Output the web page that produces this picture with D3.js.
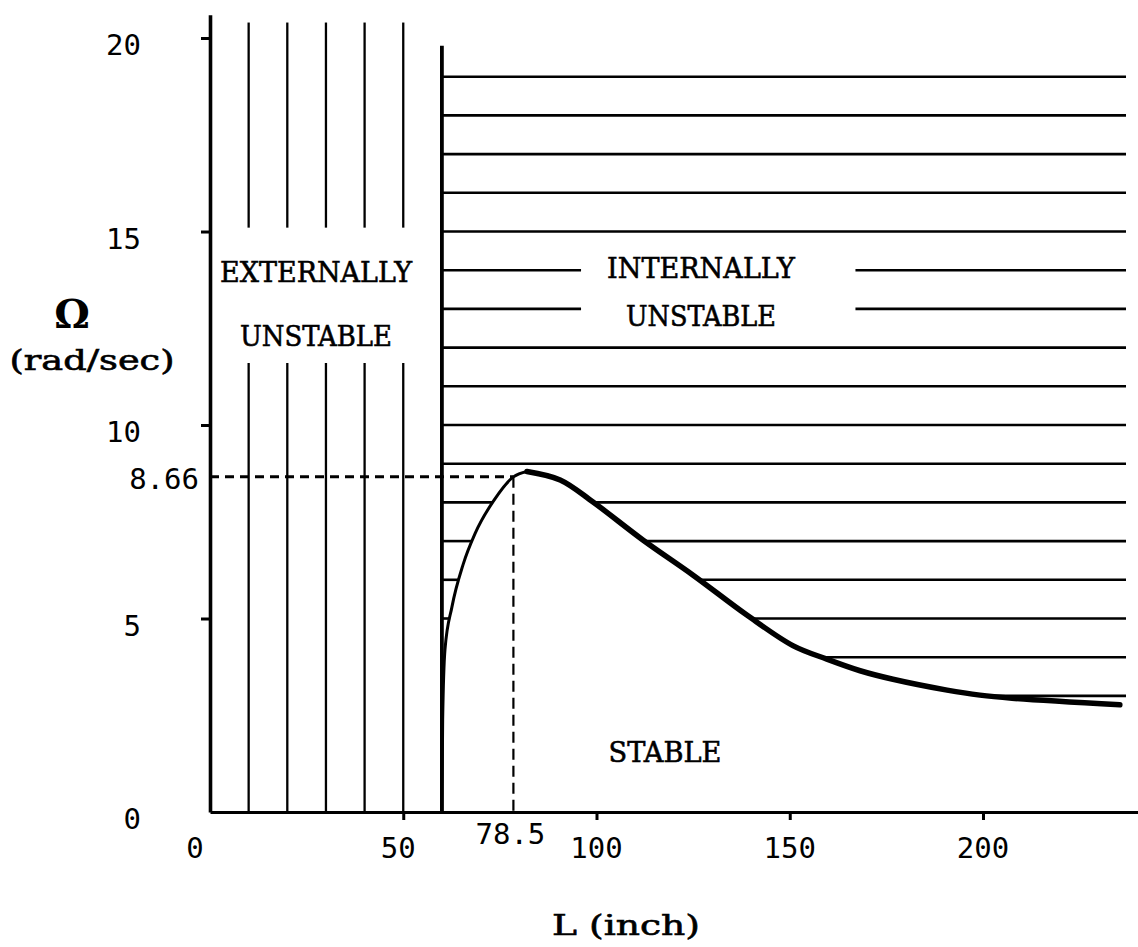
<!DOCTYPE html>
<html><head><meta charset="utf-8">
<script src="https://cdn.jsdelivr.net/npm/d3@7"></script>
<style>body{margin:0;background:#fff}</style>
</head><body><svg id="c" width="1138" height="947"></svg>
<script>
// ---- data ----
const xTicks = [0, 50, 100, 150, 200];
const yTicks = [0, 5, 10, 15, 20];
const curveL     = [60, 60.2, 60.8, 62.6, 65.5, 68.6, 73.5, 78.5, 82, 90.6, 99.1, 112.0, 125.0, 138.9, 150.8, 159.6, 168.2, 176.7, 190.7, 199.2, 207.5, 235.4];
const curveOmega = [0,  2.4,  4.2,  5.3,  6.4,  7.2,  8.06, 8.66, 8.8, 8.58, 8.01, 7.03, 6.12, 5.09, 4.3, 3.95, 3.65, 3.43, 3.15, 3.02, 2.94, 2.77];
const hatchOmega = [3, 4, 5, 6, 7, 8, 9, 10, 11, 12, 13, 14, 15, 16, 17, 18, 19];
const stripeL = [10, 20, 30, 40, 50];
const boundaryL = 60;
const peakL = 78.5, peakOmega = 8.66;
const hatchEndL = 237;
const stripeTopOmega = 20.4;
const stripeGapOmega = [11.6, 15.1];
const textGapRows = [13, 14];
const textGapL = [96, 167];
const axisTopOmega = 20.6, boundaryTopOmega = 19.8;
const xMax = 240;

const svg = d3.select("#c");
svg.append("rect").attr("width", 1138).attr("height", 947).attr("fill", "#fff");

const x = d3.scaleLinear().domain([0, xMax]).range([210, 1137.6]);
const y = d3.scaleLinear().domain([0, axisTopOmega]).range([812, 14.8]);

const mono = "'DejaVu Sans Mono', monospace";
const type = "'DejaVu Serif', serif";

function crossings(level) {
  const res = [];
  for (let i = 0; i < curveL.length - 1; i++) {
    const a = curveOmega[i], b = curveOmega[i + 1];
    if ((a - level) * (b - level) < 0 || a === level) {
      const t = (level - a) / (b - a);
      res.push(curveL[i] + t * (curveL[i + 1] - curveL[i]));
    }
  }
  return res;
}

// horizontal hatching (internally unstable)
const hatchSegs = [];
hatchOmega.forEach(w => {
  let segs = [[boundaryL, hatchEndL]];
  const c = crossings(w);
  if (c.length >= 2) segs = [[boundaryL, c[0]], [c[1], hatchEndL]];
  else if (c.length === 1) segs = [[c[0], hatchEndL]];
  if (textGapRows.includes(w)) {
    const out = [];
    segs.forEach(([a, b]) => {
      if (b <= textGapL[0] || a >= textGapL[1]) out.push([a, b]);
      else {
        if (a < textGapL[0]) out.push([a, textGapL[0]]);
        if (b > textGapL[1]) out.push([textGapL[1], b]);
      }
    });
    segs = out;
  }
  segs.forEach(s => hatchSegs.push({w, a: s[0], b: s[1]}));
});
svg.append("g").selectAll("line").data(hatchSegs).join("line")
  .attr("x1", d => x(d.a)).attr("x2", d => x(d.b))
  .attr("y1", d => y(d.w)).attr("y2", d => y(d.w))
  .attr("stroke", "#000").attr("stroke-width", 2.6);

// vertical stripes (externally unstable)
const stripeSegs = [];
stripeL.forEach(l => {
  stripeSegs.push({l, a: stripeGapOmega[1], b: stripeTopOmega});
  stripeSegs.push({l, a: 0, b: stripeGapOmega[0]});
});
svg.append("g").selectAll("line").data(stripeSegs).join("line")
  .attr("x1", d => x(d.l)).attr("x2", d => x(d.l))
  .attr("y1", d => y(d.a)).attr("y2", d => y(d.b))
  .attr("stroke", "#000").attr("stroke-width", 2.3);

// axes
const xAxis = d3.axisBottom(x).tickValues(xTicks.filter(v => v > 0)).tickSize(8).tickSizeOuter(0).tickFormat("");
const gx = svg.append("g").attr("transform", `translate(0,${y(0)})`).call(xAxis);
gx.select(".domain").attr("stroke-width", 3.2);
gx.selectAll(".tick line").attr("stroke-width", 3);

const yAxis = d3.axisLeft(y).tickValues(yTicks.filter(v => v > 0)).tickSize(9).tickSizeOuter(0).tickFormat("");
const gy = svg.append("g").attr("transform", `translate(${x(0)},0)`).call(yAxis);
gy.select(".domain").attr("stroke-width", 3.6);
gy.selectAll(".tick line").attr("stroke-width", 3);

// boundary line
svg.append("line")
  .attr("x1", x(boundaryL)).attr("x2", x(boundaryL))
  .attr("y1", y(0)).attr("y2", y(boundaryTopOmega))
  .attr("stroke", "#000").attr("stroke-width", 3.8);

// dashed peak guides
svg.append("line")
  .attr("x1", x(0)).attr("x2", x(peakL))
  .attr("y1", y(peakOmega)).attr("y2", y(peakOmega))
  .attr("stroke", "#000").attr("stroke-width", 3).attr("stroke-dasharray", "9,6");
svg.append("line")
  .attr("x1", x(peakL)).attr("x2", x(peakL))
  .attr("y1", y(peakOmega)).attr("y2", y(0))
  .attr("stroke", "#000").attr("stroke-width", 2.2).attr("stroke-dasharray", "11,6");

// stability curve
const pts = curveL.map((l, i) => [l, curveOmega[i]]);
const iPeak = curveOmega.indexOf(d3.max(curveOmega));
const lineUp = d3.line().x(d => x(d[0])).y(d => y(d[1])).curve(d3.curveMonotoneX);
const lineDown = d3.line().x(d => x(d[0])).y(d => y(d[1])).curve(d3.curveCatmullRom.alpha(0.5));
svg.append("path").attr("d", lineUp(pts.slice(0, iPeak + 1)))
  .attr("fill", "none").attr("stroke", "#000").attr("stroke-width", 3);
svg.append("path").attr("d", lineDown(pts.slice(iPeak)))
  .attr("fill", "none").attr("stroke", "#000").attr("stroke-width", 5.5)
  .attr("stroke-linecap", "round").attr("stroke-linejoin", "round");

// tick labels
svg.append("g").selectAll("text").data(yTicks).join("text")
  .attr("x", 141).attr("y", d => y(d) + 7)
  .attr("text-anchor", "end").attr("dominant-baseline", "central")
  .attr("font-family", mono).attr("font-size", 29).text(d => d);
svg.append("g").selectAll("text").data(xTicks).join("text")
  .attr("x", d => x(d) - (d === 0 ? 15 : d === 50 ? 5 : 0)).attr("y", 848)
  .attr("text-anchor", "middle").attr("dominant-baseline", "central")
  .attr("font-family", mono).attr("font-size", 29).text(d => d);

svg.append("text").attr("x", x(0) - 11).attr("y", y(peakOmega) + 2)
  .attr("text-anchor", "end").attr("dominant-baseline", "central")
  .attr("font-family", mono).attr("font-size", 29).text(d3.format(".2f")(peakOmega));
svg.append("text").attr("x", x(peakL) - 3).attr("y", 834)
  .attr("text-anchor", "middle").attr("dominant-baseline", "central")
  .attr("font-family", mono).attr("font-size", 29).text(String(peakL));

// region labels (typewriter look: serif face spread to the measured width)
function label(txt, cx, cy, size, width) {
  svg.append("text").attr("x", cx - width / 2).attr("y", cy)
    .attr("dominant-baseline", "central")
    .attr("font-family", type).attr("font-size", size)
    .attr("stroke", "#000").attr("stroke-width", 0.6)
    .attr("textLength", width).attr("lengthAdjust", "spacingAndGlyphs")
    .text(txt);
}
label("EXTERNALLY", 316, 272, 28, 192);
label("UNSTABLE", 316, 336, 28, 152);
label("INTERNALLY", 701, 268, 28, 188);
label("UNSTABLE", 701, 316, 28, 150);
label("STABLE", 665, 752, 28, 113);
label("L (inch)", 626, 925, 28, 148);
label("(rad/sec)", 92, 360, 27, 165);

svg.append("text").attr("x", 72).attr("y", 313)
  .attr("text-anchor", "middle").attr("dominant-baseline", "central")
  .attr("font-family", "'DejaVu Serif', serif").attr("font-weight", "bold")
  .attr("font-size", 40).text("Ω");
</script></body></html>
